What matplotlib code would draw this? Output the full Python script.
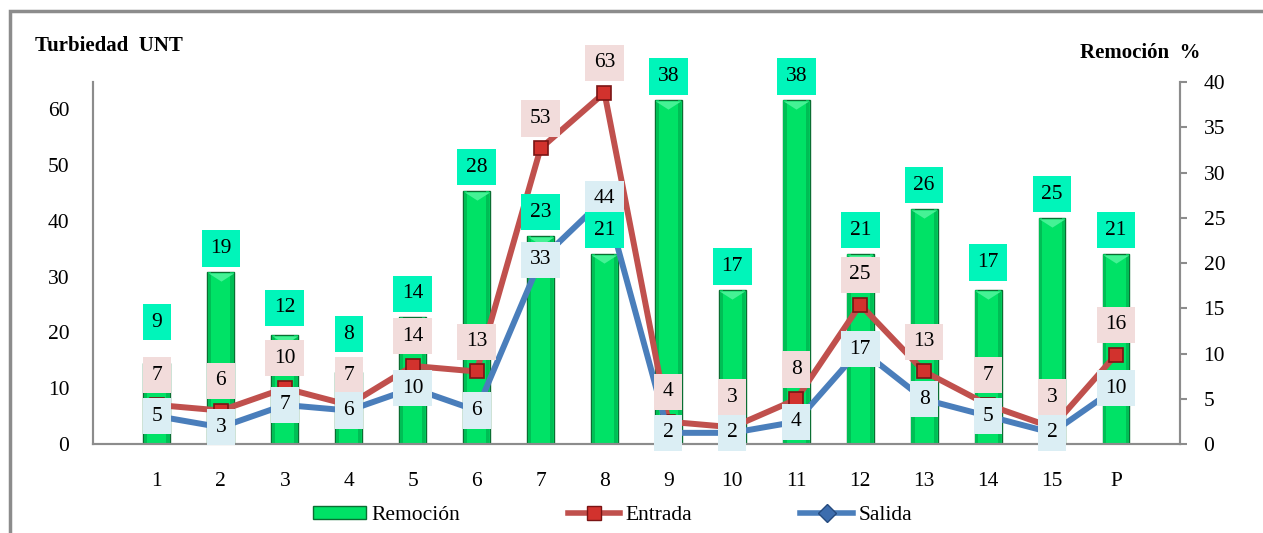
import numpy as np
import matplotlib
matplotlib.use("Agg")
import matplotlib.pyplot as plt
from matplotlib.lines import Line2D
from matplotlib.patches import Patch, Rectangle

plt.rcParams['font.family'] = ['Liberation Serif', 'DejaVu Serif']

categorias = ['1', '2', '3', '4', '5', '6', '7', '8', '9', '10', '11', '12', '13', '14', '15', 'P']
remocion = [9, 19, 12, 8, 14, 28, 23, 21, 38, 17, 38, 21, 26, 17, 25, 21]
entrada = [7, 6, 10, 7, 14, 13, 53, 63, 4, 3, 8, 25, 13, 7, 3, 16]
salida = [5, 3, 7, 6, 10, 6, 33, 44, 2, 2, 4, 17, 8, 5, 2, 10]

x = np.arange(1, len(categorias) + 1)
FS = 15.5
VERDE = '#00E266'

# labels lifted a bit further where they would collide with the Entrada labels
desplaz_rem = {0: 29, 2: 20, 3: 27, 13: 20}

fig = plt.figure(figsize=(12.63, 5.33), dpi=100)
ax = fig.add_axes([0.0736, 0.167, 0.8606, 0.679])
ax2 = ax.twinx()

# bars on the base axes (right scale), lines on the twin (left scale) so lines sit on top
ax.bar(x, remocion, width=0.42, color=VERDE, edgecolor='#0A6E32', linewidth=1.0, zorder=2)
for dx in (-0.175, 0.175):
    ax.bar(x + dx, remocion, width=0.05, color='#00BE55', linewidth=0, zorder=2)
chevron = [(-1, 0.32), (1, 0.32), (0, -0.32)]
ax.plot(x, np.array(remocion) - 0.55, ls='none', marker=chevron, ms=18.5,
        mfc='#45F295', mec='none', zorder=2.5)
ax.set_ylim(0, 40)
ax.set_xlim(0, 17)
ax.yaxis.tick_right()
ax.set_yticks(range(0, 41, 5))

ax2.plot(x, entrada, color='#C0504D', lw=4.3, marker='s', ms=10, mfc='#D2322D', mec='#7A1414', mew=1.2, zorder=3)
ax2.plot(x, salida, color='#4A7EBB', lw=4.3, marker='D', ms=9, mfc='#3D6DAE', mec='#254A7E', mew=1.2, zorder=3)
ax2.set_ylim(0, 64.9)
ax2.yaxis.tick_left()
ax2.set_yticks(range(0, 61, 10))

for a in (ax, ax2):
    a.spines['top'].set_visible(False)
    for s in ('left', 'right', 'bottom'):
        a.spines[s].set_color('#8C8C8C')
        a.spines[s].set_linewidth(1.5)
    a.tick_params(labelsize=FS, colors='#8C8C8C', labelcolor='black')

ax.set_xticks(x)
ax.set_xticklabels(categorias)
ax.tick_params(axis='x', length=0, pad=20)
ax2.tick_params(axis='y', length=0, pad=17)
ax.tick_params(axis='y', length=5, width=1.5, pad=12)

box = dict(boxstyle='square,pad=0.4', lw=0)
for i, (xi, v) in enumerate(zip(x, remocion)):
    ax2.annotate(str(v), (xi, v * 64.9 / 40), xytext=(0, desplaz_rem.get(i, 17)), textcoords='offset points',
                 ha='center', va='center', fontsize=FS, zorder=6,
                 bbox=dict(box, fc='#00F5BA'))
for xi, v in zip(x, entrada):
    ax2.annotate(str(v), (xi, v), xytext=(0, 21.5), textcoords='offset points',
                 ha='center', va='center', fontsize=FS, zorder=5,
                 bbox=dict(box, fc='#F2DCDB'))
for xi, v in zip(x, salida):
    ax2.annotate(str(v), (xi, v), xytext=(0, 0), textcoords='offset points',
                 ha='center', va='center', fontsize=FS, zorder=5,
                 bbox=dict(box, fc='#DBEEF4'))

fig.text(35 / 1263, 1 - 46 / 533, 'Turbiedad  UNT', fontsize=15, fontweight='bold', va='center')
fig.text(1200 / 1263, 1 - 53 / 533, 'Remoción  %', fontsize=15, fontweight='bold', va='center', ha='right')

# outer chart frame
fig.patches.append(Rectangle((10 / 1263, -0.1), 1.2, 1 - 11 / 533 + 0.1, transform=fig.transFigure,
                             fill=False, ec='#8C8C8C', lw=2.5))

handles = [
    Patch(fc=VERDE, ec='#0A6E32', lw=1.0),
    Line2D([], [], color='#C0504D', lw=4, marker='s', ms=10, mfc='#D2322D', mec='#7A1414'),
    Line2D([], [], color='#4A7EBB', lw=4, marker='D', ms=9, mfc='#3D6DAE', mec='#254A7E'),
]
fig.legend(handles, ['Remoción', 'Entrada', 'Salida'], loc='center', bbox_to_anchor=(0.485, 0.033),
           ncol=3, frameon=False, fontsize=FS, handlelength=2.45, handleheight=0.55,
           columnspacing=5.0, handletextpad=0.25)

fig.savefig('out.png', dpi=100)
